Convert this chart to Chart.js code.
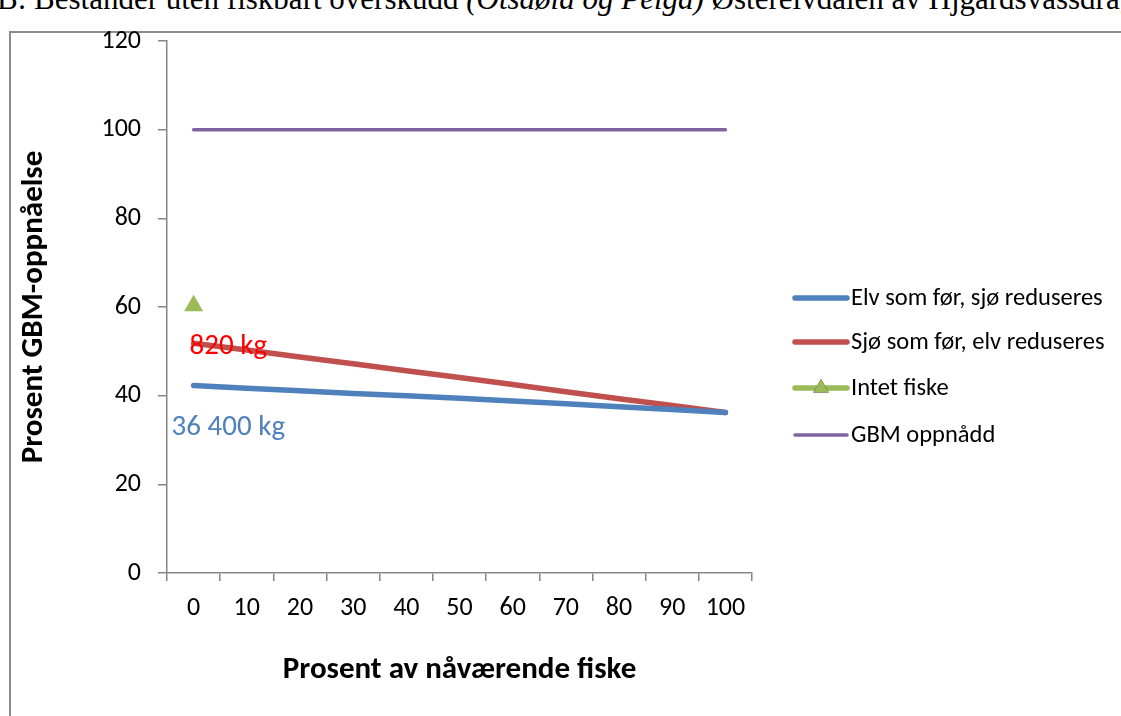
<!DOCTYPE html>
<html lang="no">
<head>
<meta charset="utf-8">
<title>Prosent GBM-oppnåelse</title>
<script src="https://cdn.jsdelivr.net/npm/chart.js@4/dist/chart.umd.min.js"></script>
<style>
  html, body { margin: 0; padding: 0; background: #fff; overflow: hidden; }
  #side { position: relative; width: 1121px; height: 716px; overflow: hidden; }
  #overskrift {
    position: absolute; left: -3px; top: -17px; white-space: nowrap; line-height: 1;
    font-family: "Liberation Serif", "DejaVu Serif", serif; font-size: 31px; color: #000;
  }
  #ramme {
    position: absolute; left: 9px; top: 31px; width: 1200px; height: 800px;
    border-left: 2px solid #8c8c8c; border-top: 2px solid #8c8c8c;
  }
  #graf { position: absolute; left: 0; top: 0; }
</style>
</head>
<body>
<div id="side">
  <div id="overskrift">B: Bestander uten fiskbart overskudd <i>(Otsdøla og Pelga)</i> Østerelvdalen av Hjgardsvassdraget</div>
  <div id="ramme"></div>
  <canvas id="graf" width="1121" height="716"></canvas>
</div>
<script>
const kategorier = ["0", "10", "20", "30", "40", "50", "60", "70", "80", "90", "100"];
const elvSomFor = [42.3, 41.7, 41.1, 40.5, 40.0, 39.4, 38.8, 38.2, 37.5, 36.9, 36.2];
const sjoSomFor = [51.8, 50.3, 48.7, 47.2, 45.6, 44.1, 42.5, 40.9, 39.3, 37.8, 36.2];
const intetFiske = [60.3, null, null, null, null, null, null, null, null, null, null];
const gbmOppnadd = [100, 100, 100, 100, 100, 100, 100, 100, 100, 100, 100];
const merkelapper = [
  { serie: 1, tekst: "820 kg", farge: "#ff0000", dx: -4, dy: 3 },
  { serie: 0, tekst: "36 400 kg", farge: "#4f81bd", dx: -22, dy: 42 }
];

const skrift = "Carlito, Calibri, Lato, sans-serif";
const graa = "#868686";

// egen forklaring og tekstetiketter ved første punkt
const tillegg = {
  id: "tillegg",
  afterDatasetsDraw(chart) {
    const { ctx, scales: { x, y } } = chart;
    ctx.save();
    ctx.font = "29px " + skrift;
    ctx.textBaseline = "middle";
    ctx.textAlign = "left";
    merkelapper.forEach(m => {
      const v = chart.data.datasets[m.serie].data[0];
      ctx.fillStyle = m.farge;
      ctx.fillText(m.tekst, x.getPixelForValue(0) + m.dx, y.getPixelForValue(v) + m.dy);
    });

    const radY = [298, 342, 388, 435];
    ctx.font = "24.5px " + skrift;
    chart.data.datasets.forEach((ds, i) => {
      const yy = radY[i];
      ctx.strokeStyle = ds.borderColor;
      ctx.lineWidth = ds.borderWidth;
      ctx.lineCap = "round";
      ctx.beginPath();
      ctx.moveTo(795, yy);
      ctx.lineTo(847, yy);
      ctx.stroke();
      if (ds.pointRadius > 0) {
        Chart.helpers.drawPoint(ctx, { pointStyle: ds.pointStyle, radius: 9, borderWidth: 0 }, 821, yy);
        ctx.fillStyle = ds.pointBackgroundColor;
        ctx.fill();
      }
      ctx.fillStyle = "#000";
      ctx.fillText(ds.label, 851, yy + 1);
    });
    ctx.restore();
  }
};

new Chart(document.getElementById("graf"), {
  type: "line",
  data: {
    labels: kategorier,
    datasets: [
      { label: "Elv som før, sjø reduseres", data: elvSomFor, borderColor: "#4f81bd", borderWidth: 5.5, pointRadius: 0, borderCapStyle: "round" },
      { label: "Sjø som før, elv reduseres", data: sjoSomFor, borderColor: "#c0504d", borderWidth: 5.5, pointRadius: 0, borderCapStyle: "round" },
      { label: "Intet fiske", data: intetFiske, borderColor: "#9bbb59", borderWidth: 5.5, pointStyle: "triangle", pointRadius: 11, pointBackgroundColor: "#9bbb59", pointBorderColor: "#9bbb59", pointBorderWidth: 0 },
      { label: "GBM oppnådd", data: gbmOppnadd, borderColor: "#8064a2", borderWidth: 3.5, pointRadius: 0, borderCapStyle: "round" }
    ]
  },
  options: {
    responsive: false,
    animation: false,
    layout: { padding: { left: 9, top: 41, right: 369, bottom: 0 } },
    plugins: { legend: { display: false }, tooltip: { enabled: false } },
    scales: {
      x: {
        offset: true,
        grid: { offset: true, drawOnChartArea: false, color: graa, lineWidth: 1.5, tickLength: 8 },
        border: { color: graa, width: 1.5 },
        ticks: { color: "#000", padding: 12, font: { family: skrift, size: 26 }, maxRotation: 0 },
        title: { display: true, text: "Prosent av nåværende fiske", color: "#000", padding: { bottom: 27 }, font: { family: skrift, size: 31, weight: "bold" } },
        afterFit(s) { s.height = 143; }
      },
      y: {
        min: 0, max: 120,
        ticks: { stepSize: 20, color: "#000", padding: 17, font: { family: skrift, size: 26 } },
        grid: { drawOnChartArea: false, color: graa, lineWidth: 1.5, tickLength: 9 },
        border: { color: graa, width: 1.5 },
        title: { display: true, text: "Prosent GBM-oppnåelse", color: "#000", padding: { top: 7 }, font: { family: skrift, size: 31, weight: "bold" } },
        afterFit(s) { s.width = 158; }
      }
    }
  },
  plugins: [tillegg]
});
</script>
</body>
</html>
